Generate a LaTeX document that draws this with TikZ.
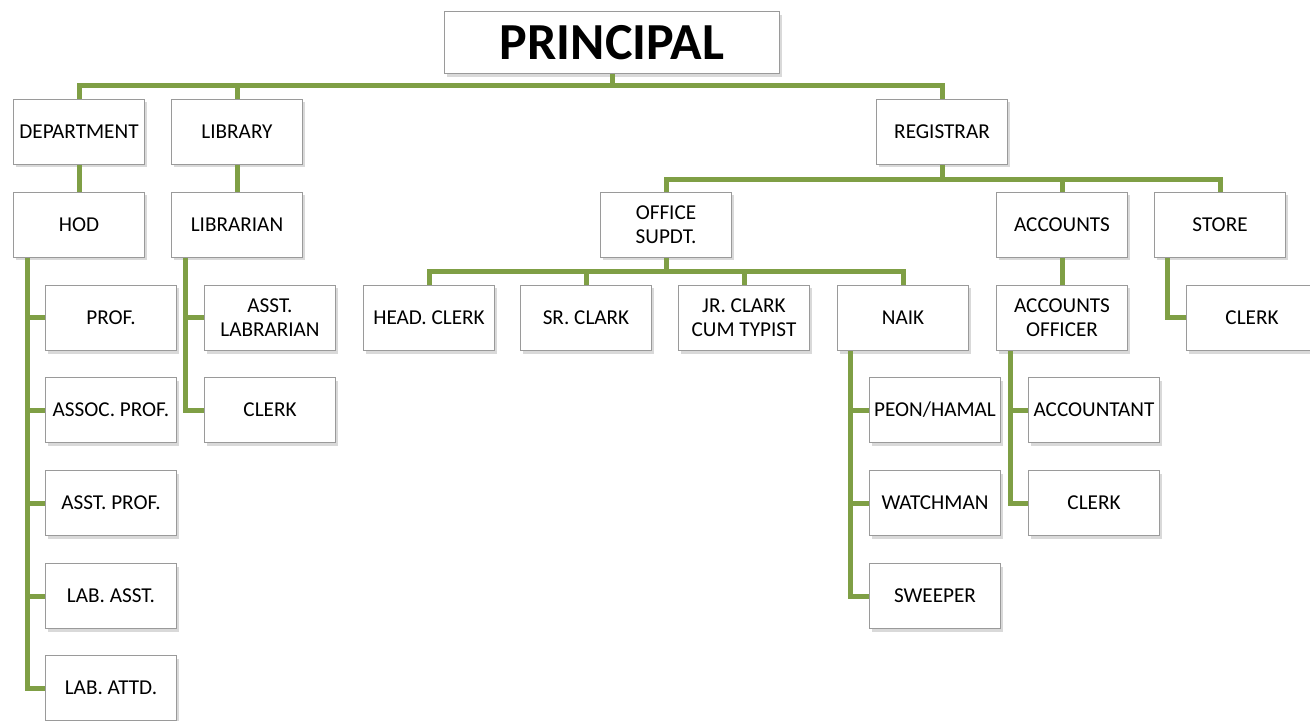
\documentclass[tikz,border=0pt]{standalone}
\usepackage{fontspec}
\setmainfont{Carlito}
\usepackage{tikz}
\definecolor{orggreen}{HTML}{7F9F45}
\definecolor{boxgray}{HTML}{9A9A9A}
\usetikzlibrary{shadows}

\begin{document}
\begin{tikzpicture}[x=0.5pt, y=-0.5pt]
    \tikzset{post/.style={
      rectangle,
      draw=boxgray,
      line width=.5pt,
      fill=white,
      minimum width=65.5pt,
      minimum height=32.5pt,
      inner sep=1pt,
      align=center,
      font=\fontsize{10.6}{12}\selectfont,
      drop shadow={shadow xshift=1pt, shadow yshift=-1.5pt, opacity=.3, fill=gray}},
      bus/.style={draw=orggreen, line width=2.5pt}}
    \useasboundingbox (0, 0) rectangle (1310, 721);
    \node[post, minimum width=167.5pt, minimum height=31pt, font=\bfseries\fontsize{26}{30}\selectfont] at (612, 43) (principal) {PRINCIPAL};
    \node[post] at (79, 132) (dept) {DEPARTMENT};
    \node[post] at (237, 132) (lib) {LIBRARY};
    \node[post] at (942, 132) (reg) {REGISTRAR};
    \node[post] at (79, 225) (hod) {HOD};
    \node[post] at (237, 225) (librarian) {LIBRARIAN};
    \node[post] at (666, 225) (osupdt) {OFFICE\\SUPDT.};
    \node[post] at (1062, 225) (accounts) {ACCOUNTS};
    \node[post] at (1220, 225) (store) {STORE};
    \node[post] at (111, 318) (prof) {PROF.};
    \node[post] at (111, 410) (assoc) {ASSOC. PROF.};
    \node[post] at (111, 503) (asst) {ASST. PROF.};
    \node[post] at (111, 596) (labasst) {LAB. ASST.};
    \node[post] at (111, 688) (labattd) {LAB. ATTD.};
    \node[post] at (270, 318) (asstlib) {ASST.\\LABRARIAN};
    \node[post] at (270, 410) (libclerk) {CLERK};
    \node[post] at (429, 318) (hclerk) {HEAD. CLERK};
    \node[post] at (586, 318) (srclark) {SR. CLARK};
    \node[post] at (744, 318) (jrclark) {JR. CLARK\\CUM TYPIST};
    \node[post] at (903, 318) (naik) {NAIK};
    \node[post] at (1062, 318) (accofficer) {ACCOUNTS\\OFFICER};
    \node[post] at (1252, 318) (storeclerk) {CLERK};
    \node[post] at (935, 410) (peon) {PEON/HAMAL};
    \node[post] at (935, 503) (watchman) {WATCHMAN};
    \node[post] at (935, 596) (sweeper) {SWEEPER};
    \node[post] at (1094, 410) (accountant) {ACCOUNTANT};
    \node[post] at (1094, 503) (accclerk) {CLERK};
    % bus bars
    \coordinate (topbus) at (612, 86);
    \coordinate (regbus) at (942, 180);
    \coordinate (offbus) at (666, 272);
    \draw[bus] (principal.south) -- (topbus);
    \draw[bus] (dept.north) |- (topbus) -| (reg.north);
    \draw[bus] (lib.north) -- (lib.north |- topbus);
    \draw[bus] (dept) -- (hod);
    \draw[bus] (lib) -- (librarian);
    \draw[bus] (reg.south) -- (regbus);
    \draw[bus] (osupdt.north) |- (regbus) -| (store.north);
    \draw[bus] (accounts.north) -- (accounts.north |- regbus);
    \draw[bus] (accounts) -- (accofficer);
    \draw[bus] (osupdt.south) -- (offbus);
    \draw[bus] (hclerk.north) |- (offbus) -| (naik.north);
    \draw[bus] (srclark.north) -- (srclark.north |- offbus);
    \draw[bus] (jrclark.north) -- (jrclark.north |- offbus);
    % side branches
    \foreach \n in {prof, assoc, asst, labasst, labattd}
      \draw[bus] ([xshift=7pt]hod.south west) |- (\n.west);
    \foreach \n in {asstlib, libclerk}
      \draw[bus] ([xshift=7pt]librarian.south west) |- (\n.west);
    \foreach \n in {peon, watchman, sweeper}
      \draw[bus] ([xshift=6.5pt]naik.south west) |- (\n.west);
    \foreach \n in {accountant, accclerk}
      \draw[bus] ([xshift=7pt]accofficer.south west) |- (\n.west);
    \draw[bus] ([xshift=6.5pt]store.south west) |- (storeclerk.west);
  \end{tikzpicture}
\end{document}
